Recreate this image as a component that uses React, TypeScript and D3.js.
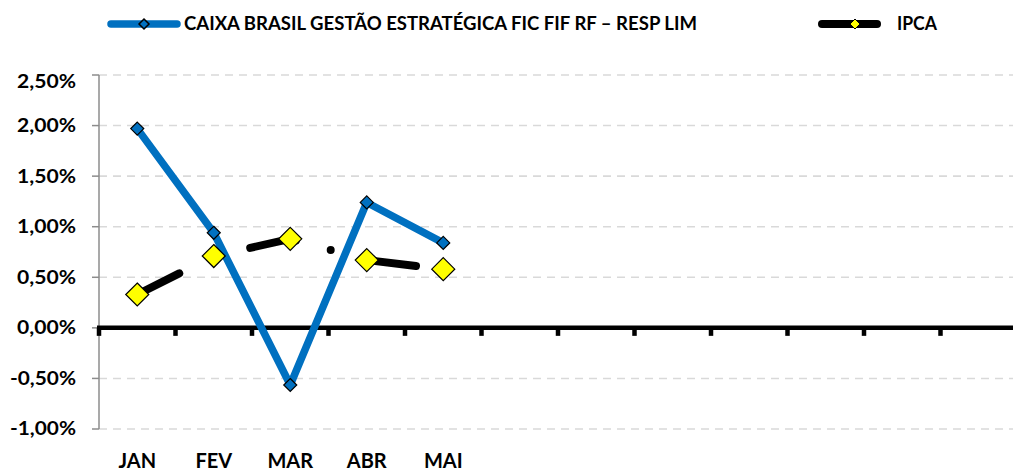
import React from "react";
import * as d3 from "d3";

const categories = ["JAN", "FEV", "MAR", "ABR", "MAI"];
const slotCount = 12;
const fundValues = [1.97, 0.94, -0.565, 1.24, 0.84];
const ipcaValues = [0.33, 0.71, 0.88, 0.67, 0.58];
const yTicks = [2.5, 2.0, 1.5, 1.0, 0.5, 0.0, -0.5, -1.0];
const fundName = "CAIXA BRASIL GESTÃO ESTRATÉGICA FIC FIF RF – RESP LIM";
const ipcaName = "IPCA";

const W = 1013;
const H = 473;
const FONT = "Lato, 'Open Sans', sans-serif";
const BLUE = "#0070C0";

function diamond(cx: number, cy: number, r: number) {
  return `M${cx},${cy - r}L${cx + r},${cy}L${cx},${cy + r}L${cx - r},${cy}Z`;
}

const fmt = (v: number) => v.toFixed(2).replace(".", ",") + "%";

export default function App() {
  const left = 99;
  const slot = 76.5;
  const x = d3
    .scaleBand<number>()
    .domain(d3.range(slotCount))
    .range([left, left + slot * slotCount])
    .paddingInner(0)
    .paddingOuter(0);
  const y = d3.scaleLinear().domain([-1, 2.5]).range([429, 75]);
  const cx = (i: number) => (x(i) as number) + x.bandwidth() / 2;

  const line = d3
    .line<number>()
    .x((_, i) => cx(i))
    .y((d) => y(d));

  const tickXs = d3.range(slotCount + 1).map((i) => left + i * x.bandwidth());

  return (
    <svg
      width={W}
      height={H}
      style={{ position: "absolute", left: 0, top: 0, display: "block", background: "#fff" }}
    >
      {/* gridlines */}
      {yTicks
        .filter((t) => t !== 0)
        .map((t) => (
          <line
            key={"g" + t}
            x1={left}
            x2={W}
            y1={y(t)}
            y2={y(t)}
            stroke="#D9D9D9"
            strokeWidth={1.6}
            strokeDasharray="8 6"
          />
        ))}
      {/* y axis */}
      <line x1={left} x2={left} y1={y(2.5)} y2={y(-1)} stroke="#8C8C8C" strokeWidth={1.5} />
      {yTicks.map((t) => (
        <line key={"yt" + t} x1={left - 7} x2={left} y1={y(t)} y2={y(t)} stroke="#8C8C8C" strokeWidth={1.5} />
      ))}
      {yTicks.map((t, i) => (
        <text
          key={"yl" + t}
          x={76}
          y={y(t) + (i === 0 ? 7 : 0)}
          dy="0.36em"
          textAnchor="end"
          fontFamily={FONT}
          fontWeight={700}
          fontSize={18}
          textLength={t < 0 ? 66 : 59}
          lengthAdjust="spacingAndGlyphs"
          fill="#000"
        >
          {fmt(t)}
        </text>
      ))}
      {/* zero axis */}
      <line x1={left - 2} x2={W} y1={y(0)} y2={y(0)} stroke="#000" strokeWidth={4.5} />
      {tickXs.map((tx, i) => (
        <line key={"xt" + i} x1={tx} x2={tx} y1={y(0)} y2={y(0) + 8} stroke="#000" strokeWidth={4.5} />
      ))}
      {categories.map((c, i) => (
        <text
          key={"xl" + c}
          x={cx(i)}
          y={468}
          textAnchor="middle"
          fontFamily={FONT}
          fontWeight={700}
          fontSize={20}
          fill="#000"
        >
          {c}
        </text>
      ))}
      {/* fund series */}
      <path d={line(fundValues) || ""} fill="none" stroke={BLUE} strokeWidth={7.5} strokeLinejoin="round" />
      {fundValues.map((v, i) => (
        <path key={"fm" + i} d={diamond(cx(i), y(v), 6.5)} fill={BLUE} stroke="#000" strokeWidth={1.2} />
      ))}
      {/* ipca series */}
      <path
        d={line(ipcaValues) || ""}
        fill="none"
        stroke="#000"
        strokeWidth={8}
        strokeLinecap="round"
        strokeLinejoin="round"
        strokeDasharray="47 36 0 40"
      />
      {ipcaValues.map((v, i) => (
        <path key={"im" + i} d={diamond(cx(i), y(v), 11.5)} fill="#FFFF00" stroke="#000" strokeWidth={1.2} />
      ))}
      {/* legend */}
      <line x1={111} x2={177} y1={24} y2={24} stroke={BLUE} strokeWidth={7.5} strokeLinecap="round" />
      <path d={diamond(144, 24, 5)} fill={BLUE} stroke="#000" strokeWidth={1.5} />
      <text
        x={184}
        y={30}
        fontFamily={FONT}
        fontWeight={700}
        fontSize={18}
        textLength={513}
        lengthAdjust="spacingAndGlyphs"
        fill="#000"
      >
        {fundName}
      </text>
      <line x1={822} x2={877} y1={24} y2={24} stroke="#000" strokeWidth={8} strokeLinecap="round" />
      <path d={diamond(855, 24, 5)} fill="#FFFF00" stroke="#000" strokeWidth={1} />
      <text
        x={897}
        y={30}
        fontFamily={FONT}
        fontWeight={700}
        fontSize={18}
        textLength={40}
        lengthAdjust="spacingAndGlyphs"
        fill="#000"
      >
        {ipcaName}
      </text>
    </svg>
  );
}
